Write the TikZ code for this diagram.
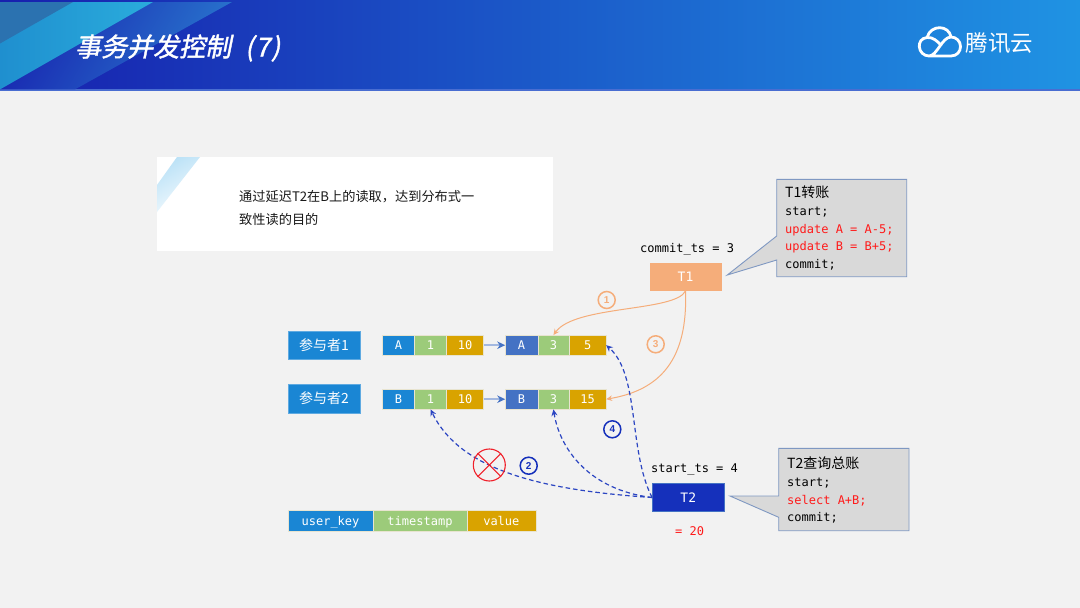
\documentclass[tikz,border=0pt]{standalone}
\usepackage{fontspec}
\usetikzlibrary{arrows.meta}
\setmainfont{Liberation Sans}
\setsansfont{Liberation Sans}
\setmonofont{DejaVu Sans Mono}
\newfontfamily\cjk{Noto Sans CJK SC}
\newfontfamily\cjktitle[FakeSlant=0.2,FakeBold=1.5]{Noto Sans CJK SC}
\definecolor{pagebg}{HTML}{F2F2F2}
\definecolor{hdA}{HTML}{1720AE}
\definecolor{hdB}{HTML}{1B48C6}
\definecolor{hdC}{HTML}{1F93E3}
\definecolor{bandL}{HTML}{1F8FCF}
\definecolor{bandR}{HTML}{2AACDC}
\definecolor{cornerband}{HTML}{2B72B0}
\definecolor{midband}{HTML}{2A7CD0}
\definecolor{notecorner}{HTML}{AEDCF5}
\definecolor{keyblue}{HTML}{1A86D4}
\definecolor{keydark}{HTML}{4472C4}
\definecolor{tsgreen}{HTML}{9CCB7A}
\definecolor{valgold}{HTML}{D9A300}
\definecolor{cellline}{HTML}{E8E4D0}
\definecolor{torange}{HTML}{F5AD7A}
\definecolor{tblue}{HTML}{1530BB}
\definecolor{dashblue}{HTML}{2B45C2}
\definecolor{calloutfill}{HTML}{D9D9D9}
\definecolor{calloutline}{HTML}{7F98C2}
\definecolor{linkblue}{HTML}{A3B8E0}
\definecolor{redmark}{HTML}{F0202A}
\definecolor{redtext}{HTML}{FF1A1A}
\tikzset{
  x=1pt,y=-1pt,
  cell/.style={anchor=west,minimum height=20.3pt,inner sep=0pt,outer sep=0pt,text=white,font=\fontsize{12}{14}\ttfamily,text height=11pt,text depth=2pt,draw=cellline,line width=0.4pt},
  partbox/.style={minimum width=72pt,minimum height=28.5pt,inner sep=0pt,fill=keyblue,draw=keyblue!70!white,line width=0.5pt,text=white,font=\fontsize{14}{16}\cjk},
  txbox/.style={minimum width=72pt,minimum height=28.2pt,inner sep=0pt,text=white,font=\fontsize{13}{15}\ttfamily},
  plain/.style={anchor=west,inner sep=0pt,font=\fontsize{12}{14}\ttfamily,text=black,text height=11pt,text depth=2pt},
  calloutshape/.style={fill=calloutfill,draw=calloutline,line width=0.9pt,line join=miter},
  calltext/.style={anchor=north west,inner sep=0pt,align=left,font=\fontsize{12}{17.6}\ttfamily},
  orangeline/.style={draw=torange,line width=1pt,-{Stealth[length=6pt,width=5.5pt]}},
  blueline/.style={draw=dashblue,line width=1.2pt,dash pattern=on 4.5pt off 3pt,-{Stealth[length=6.5pt,width=6pt]}},
  linkline/.style={draw=linkblue,line width=1.8pt,-{Stealth[length=8pt,width=7.5pt,color=keydark]}},
  numcircle/.style={circle,minimum size=17pt,inner sep=0pt,line width=1.5pt,fill=pagebg,font=\fontsize{10}{11}\sffamily\bfseries},
}
\begin{document}
\begin{tikzpicture}
\useasboundingbox (0,0) rectangle (1080,608);
\fill[pagebg] (0,0) rectangle (1080,608);
% header
\shade[left color=hdA,middle color=hdB,right color=hdC] (0,0) rectangle (1080,90);
\fill[hdB!80!white] (0,89.4) rectangle (1080,90.8);
\begin{scope}
\clip (0,2) -- (232,2) -- (75,89.4) -- (0,89.4) -- cycle;
\shade[left color=hdA,right color=midband,shading angle=60] (0,-40) rectangle (240,120);
\end{scope}
\begin{scope}
\clip (0,89.4) -- (153,2) -- (0,2) -- cycle;
\shade[left color=bandL,right color=bandR] (0,2) rectangle (153,90);
\end{scope}
\fill[cornerband] (0,2) -- (73,2) -- (0,43.5) -- cycle;
\node[anchor=west,inner sep=0pt,text=white] (title) at (75,48) {\fontsize{26}{30}\cjktitle 事务并发控制\hspace{14pt}(\hspace{1.5pt}7\hspace{1.5pt})};
% logo
\draw[white,line width=2.8pt,line cap=round,line join=round]
  (951,37) .. controls (949,25) and (931,24) .. (927,37.5)
  .. controls (921,38) and (919,43) .. (919.3,46.5)
  .. controls (919.5,52) and (924,56) .. (929,56)
  -- (951,56)
  .. controls (957,56) and (960.5,51.5) .. (960.5,46.5)
  .. controls (960.5,41) and (956,37) .. (951,37)
  .. controls (942,37) and (937,56) .. (929,56);
\draw[white,line width=2.8pt,line cap=round] (927,37.5) .. controls (933,37) and (937,41) .. (941,45);
\node[anchor=west,inner sep=0pt,text=white] (logotext) at (965.5,43.5) {\fontsize{22.5}{24}\cjk 腾讯云};
% note panel
\fill[white] (157,157) rectangle (553,251);
\begin{scope}
\clip (157,212) -- (157,185) -- (177,157) -- (200,157) -- cycle;
\shade[left color=notecorner,right color=white,shading angle=30] (140,150) rectangle (210,220);
\end{scope}
\node[anchor=north west,inner sep=0pt,align=left,text=black!90,font=\fontsize{13.2}{23.2}\cjk] (note) at (239,190)
  {通过延迟T2在B上的读取，达到分布式一\\致性读的目的};
% row labels
\node[partbox] (p1) at (324,345) {参与者1};
\node[partbox] (p2) at (324,398.6) {参与者2};
% cells row 1
\node[cell,fill=keyblue,minimum width=32pt] (a1k) at (382.5,345.2) {A};
\node[cell,fill=tsgreen,minimum width=32pt] (a1t) at (a1k.east) {1};
\node[cell,fill=valgold,minimum width=37pt] (a1v) at (a1t.east) {10};
\node[cell,fill=keydark,minimum width=32.5pt] (a2k) at (505.2,345.2) {A};
\node[cell,fill=tsgreen,minimum width=31.5pt] (a2t) at (a2k.east) {3};
\node[cell,fill=valgold,minimum width=37pt] (a2v) at (a2t.east) {5};
% cells row 2
\node[cell,fill=keyblue,minimum width=32pt] (b1k) at (382.5,399.2) {B};
\node[cell,fill=tsgreen,minimum width=32pt] (b1t) at (b1k.east) {1};
\node[cell,fill=valgold,minimum width=37pt] (b1v) at (b1t.east) {10};
\node[cell,fill=keydark,minimum width=32.5pt] (b2k) at (505.2,399.2) {B};
\node[cell,fill=tsgreen,minimum width=31.5pt] (b2t) at (b2k.east) {3};
\node[cell,fill=valgold,minimum width=37pt] (b2v) at (b2t.east) {15};
\draw[linkline] (a1v) -- (a2k);
\draw[linkline] (b1v) -- (b2k);
% legend
\node[cell,fill=keyblue,minimum width=85.6pt] (lk) at (287.7,520.7) {user\_key};
\node[cell,fill=tsgreen,minimum width=93.4pt] (lt) at (lk.east) {timestamp};
\node[cell,fill=valgold,minimum width=69.3pt] (lv) at (lt.east) {value};
% transactions
\node[txbox,fill=torange] (t1) at (685.5,276.7) {T1};
\node[txbox,fill=tblue,draw=keydark,line width=0.5pt] (t2) at (688.3,497.5) {T2};
\node[plain] (cts) at (640,248) {commit\_ts = 3};
\node[plain] (sts) at (651,468) {start\_ts = 4};
\node[plain,text=redtext] (sum) at (675,531) {= 20};
% callouts
\coordinate (c1tip) at (727.3,275);
\coordinate (c2tip) at (730,496);
\draw[calloutshape] (776.7,179.3) -- (906.7,179.3) -- (906.7,276.7) -- (776.7,276.7) -- (776.7,260) -- (c1tip) -- (776.7,236) -- cycle;
\draw[calloutshape] (778.7,448.3) -- (909,448.3) -- (909,530.7) -- (778.7,530.7) -- (778.7,517.3) -- (c2tip) -- (778.7,496) -- cycle;
\node[calltext] (c1text) at (785,186) {{\fontsize{14}{17.6}\cjk T1转账}\\start;\\\textcolor{redtext}{update A = A-5;}\\\textcolor{redtext}{update B = B+5;}\\commit;};
\node[calltext] (c2text) at (787,457) {{\fontsize{14}{17.6}\cjk T2查询总账}\\start;\\\textcolor{redtext}{select A+B;}\\commit;};
% connectors
\draw[orangeline] (t1.south) .. controls (675,312) and (575,305) .. (a2t.north);
\draw[orangeline] (t1.south) .. controls (688,360) and (660,390) .. (b2v.east);
\draw[blueline] (t2.west) .. controls (628,450) and (640,375) .. (a2v.east);
\draw[blueline] (t2.west) .. controls (540,490) and (460,470) .. (b1t.south);
\draw[blueline] (t2.west) .. controls (590,490) and (560,450) .. (b2t.south);
% cross mark
\node[circle,draw=redmark,line width=1.1pt,minimum size=32pt,inner sep=0pt] (cross) at (489.3,465) {};
\draw[redmark,line width=1.1pt] (cross.north west) -- (cross.south east);
\draw[redmark,line width=1.1pt] (cross.north east) -- (cross.south west);
% numbers
\node[numcircle,draw=torange,text=torange] (n1) at (606.7,300) {1};
\node[numcircle,draw=torange,text=torange] (n3) at (655.7,344.3) {3};
\node[numcircle,draw=tblue,text=tblue] (n2) at (528.7,465.7) {2};
\node[numcircle,draw=tblue,text=tblue] (n4) at (612.3,429.3) {4};
\end{tikzpicture}
\end{document}
